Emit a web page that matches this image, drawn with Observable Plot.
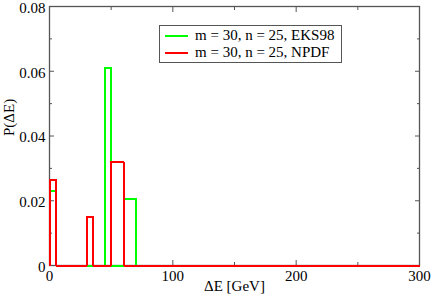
<!DOCTYPE html>
<html><head><meta charset="utf-8">
<script src="https://cdn.jsdelivr.net/npm/d3@7"></script>
<script src="https://cdn.jsdelivr.net/npm/@observablehq/plot@0.6"></script>
<style>
body{margin:0;background:#fff;}
#wrap{position:relative;width:431px;height:298px;font-family:'Liberation Serif','Times New Roman',Times,serif;}
#wrap svg, #wrap svg text{font-family:'Liberation Serif','Times New Roman',Times,serif !important;}
#legend{position:absolute;left:159px;top:25px;width:181px;height:36px;border:1px solid #555;background:#fff;font-size:15px;font-family:'Liberation Serif','Times New Roman',Times,serif;}
.row{position:absolute;left:0;height:17px;display:flex;align-items:center;white-space:nowrap;}
.sw{width:23px;height:2px;margin-left:5px;margin-right:7px;}
</style></head>
<body><div id="wrap"></div>
<script>
// Series: step histograms, [bin start, bin end, value]
const seriesNames = ["m = 30, n = 25, EKS98", "m = 30, n = 25, NPDF"];
const seriesColors = ["#00ff00", "#ff0000"];
const eksBins = [[0,5,0.023],[45,50,0.061],[60,70,0.0205]];
const npdfBins = [[0,5,0.0265],[30,35,0.015],[50,60,0.032]];
const xMax = 300;
const xMajor = [0,100,200,300];
const xMinor = [50,150,250];
const yMajor = [0,0.02,0.04,0.06,0.08];
const yMinor = [0.01,0.03,0.05,0.07];

function stepPoints(bins, name){
  const pts = [{x:0,y:0,s:name}];
  for (const [a,b,v] of bins){
    pts.push({x:a,y:v,s:name});
    pts.push({x:b,y:0,s:name});
  }
  pts.push({x:xMax,y:0,s:name});
  return pts;
}
const eksPts = stepPoints(eksBins, seriesNames[0]);
const npdfPts = stepPoints(npdfBins, seriesNames[1]);

const fmtY = d => d === 0 ? "0" : d.toFixed(2);
const axisCol = "#555";
const plot = Plot.plot({
  width: 431, height: 298,
  marginLeft: 49, marginRight: 12, marginTop: 6, marginBottom: 33,
  style: {fontFamily: "'Liberation Serif','Times New Roman',Times,serif", fontSize: "15px", color: "#000", background: "transparent"},
  x: {domain: [0, 300], axis: null},
  y: {domain: [0, 0.08], axis: null},
  marks: [
    Plot.frame({stroke: axisCol, strokeWidth: 1.3}),
    Plot.axisX({ticks: xMajor, anchor: "bottom", tickSize: 0, tickPadding: 5, tickFormat: d => String(d), label: null, fill: "#000", fontSize: 15}),
    Plot.axisX({ticks: xMajor, anchor: "bottom", tickSize: -5, tickFormat: () => "", label: null, stroke: axisCol}),
    Plot.axisX({ticks: xMinor, anchor: "bottom", tickSize: -3, tickFormat: () => "", label: null, stroke: axisCol}),
    Plot.axisX({ticks: xMajor, anchor: "top", tickSize: -5, tickFormat: () => "", label: null, stroke: axisCol}),
    Plot.axisX({ticks: xMinor, anchor: "top", tickSize: -3, tickFormat: () => "", label: null, stroke: axisCol}),
    Plot.axisY({ticks: yMajor, anchor: "left", tickSize: 0, tickPadding: 4, dy: 1.5, tickFormat: fmtY, label: null, fill: "#000", fontSize: 15}),
    Plot.axisY({ticks: yMajor, anchor: "left", tickSize: -5, tickFormat: () => "", label: null, stroke: axisCol}),
    Plot.axisY({ticks: yMinor, anchor: "left", tickSize: -3, tickFormat: () => "", label: null, stroke: axisCol}),
    Plot.axisY({ticks: yMajor, anchor: "right", tickSize: -5, tickFormat: () => "", label: null, stroke: axisCol}),
    Plot.axisY({ticks: yMinor, anchor: "right", tickSize: -3, tickFormat: () => "", label: null, stroke: axisCol}),
    Plot.line(eksPts, {x: "x", y: "y", curve: "step-after", stroke: seriesColors[0], strokeWidth: 2, shapeRendering: "crispEdges"}),
    Plot.line(npdfPts, {x: "x", y: "y", curve: "step-after", stroke: seriesColors[1], strokeWidth: 2, shapeRendering: "crispEdges"}),
    Plot.text(["ΔE [GeV]"], {frameAnchor: "bottom", dy: 25, fontSize: 15, fill: "#000"}),
    Plot.text(["P(ΔE)"], {frameAnchor: "left", dx: -40, rotate: -90, fontSize: 15, fill: "#000"})
  ]
});
const wrap = document.getElementById("wrap");
wrap.appendChild(plot);
const leg = document.createElement("div");
leg.id = "legend";
seriesNames.forEach((n, i) => {
  const r = document.createElement("div");
  r.className = "row";
  r.style.top = (1 + i*17) + "px";
  const sw = document.createElement("div");
  sw.className = "sw"; sw.style.background = seriesColors[i];
  const t = document.createElement("span"); t.textContent = n;
  r.appendChild(sw); r.appendChild(t); leg.appendChild(r);
});
wrap.appendChild(leg);
</script></body></html>
